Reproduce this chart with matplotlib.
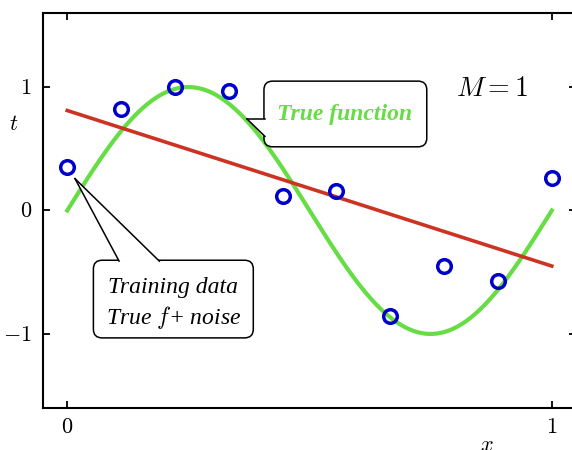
import numpy as np
import matplotlib
matplotlib.use("Agg")
import matplotlib.pyplot as plt
from matplotlib.patches import FancyBboxPatch, Polygon

plt.rcParams['mathtext.fontset'] = 'cm'
plt.rcParams['font.family'] = ['Liberation Serif', 'DejaVu Serif']

# training data (10 points, noisy sin)
x_train = np.linspace(0, 1, 10)
t_train = [0.35, 0.82, 1.0, 0.97, 0.12, 0.16, -0.855, -0.45, -0.57, 0.26]

# M = 1 fit endpoints
fit_x = [0.0, 1.0]
fit_t = [0.81, -0.45]

green = '#66dd44'
red = '#cc3322'
blue = '#0000cc'

fig = plt.figure(figsize=(5.72, 4.5), dpi=100)
ax = fig.add_axes([43/572, 1 - 408/450, 533/572, 395/450])

xs = np.linspace(0, 1, 300)
ax.plot(xs, np.sin(2*np.pi*xs), color=green, lw=3, zorder=2)
ax.plot(fit_x, fit_t, color=red, lw=2.6, zorder=3)
ax.plot(x_train, t_train, 'o', mfc='none', mec=blue, mew=2.5, ms=9.8, zorder=4)

ax.set_xlim(-0.05, 1.05)
ax.set_ylim(-1.6, 1.6)
ax.set_xticks([0, 1])
ax.set_xticklabels(['$0$', '$1$'], fontsize=16)
ax.set_yticks([-1, 0, 1])
ax.set_yticklabels(['$-1$', '$0$', '$1$'], fontsize=16)
ax.tick_params(direction='in', length=5, width=1.3, top=True, right=True, pad=8)
for s in ax.spines.values():
    s.set_linewidth(1.5)

ax.set_xlabel('$x$', fontsize=16)
ax.xaxis.set_label_coords((487-43)/533, -0.073)
ax.set_ylabel('$t$', fontsize=16, rotation=0)
ax.yaxis.set_label_coords(-0.055, (408-135)/395)

ax.text(0.876, 0.98, '$M = 1$', fontsize=20, ha='center', va='center')

# callout helper: rounded box + open wedge pointing at a spot
aspect = 485 / 124  # x px per unit / y px per unit


def callout(x0, x1, y0, y1, tip, base_a, base_b):
    box = FancyBboxPatch((x0, y0), x1 - x0, y1 - y0,
                         boxstyle='round,pad=0,rounding_size=0.018',
                         mutation_aspect=aspect, fc='white', ec='black',
                         lw=1.1, zorder=5)
    ax.add_patch(box)
    ax.add_patch(Polygon([tip, base_a, base_b], closed=True, fc='white',
                         ec='none', zorder=6))
    ax.plot([tip[0], base_a[0]], [tip[1], base_a[1]], color='black', lw=1.1, zorder=6)
    ax.plot([tip[0], base_b[0]], [tip[1], base_b[1]], color='black', lw=1.1, zorder=6)


# "True function" box
callout(0.406, 0.742, 0.516, 1.048, tip=(0.371, 0.742),
        base_a=(0.408, 0.742), base_b=(0.408, 0.60))
ax.text(0.573, 0.78, 'True function', fontsize=17, fontweight='bold',
        fontstyle='italic', color=green, ha='center', va='center', zorder=7)

# "Training data" box
callout(0.054, 0.384, -1.032, -0.403, tip=(0.016, 0.258),
        base_a=(0.107, -0.41), base_b=(0.190, -0.41))
ax.text(0.2186, -0.758, 'Training data\nTrue $f$+ noise', fontsize=17,
        fontstyle='italic', color='black', ha='center', va='center',
        linespacing=1.3, zorder=7)

fig.savefig('out.png', dpi=100)
